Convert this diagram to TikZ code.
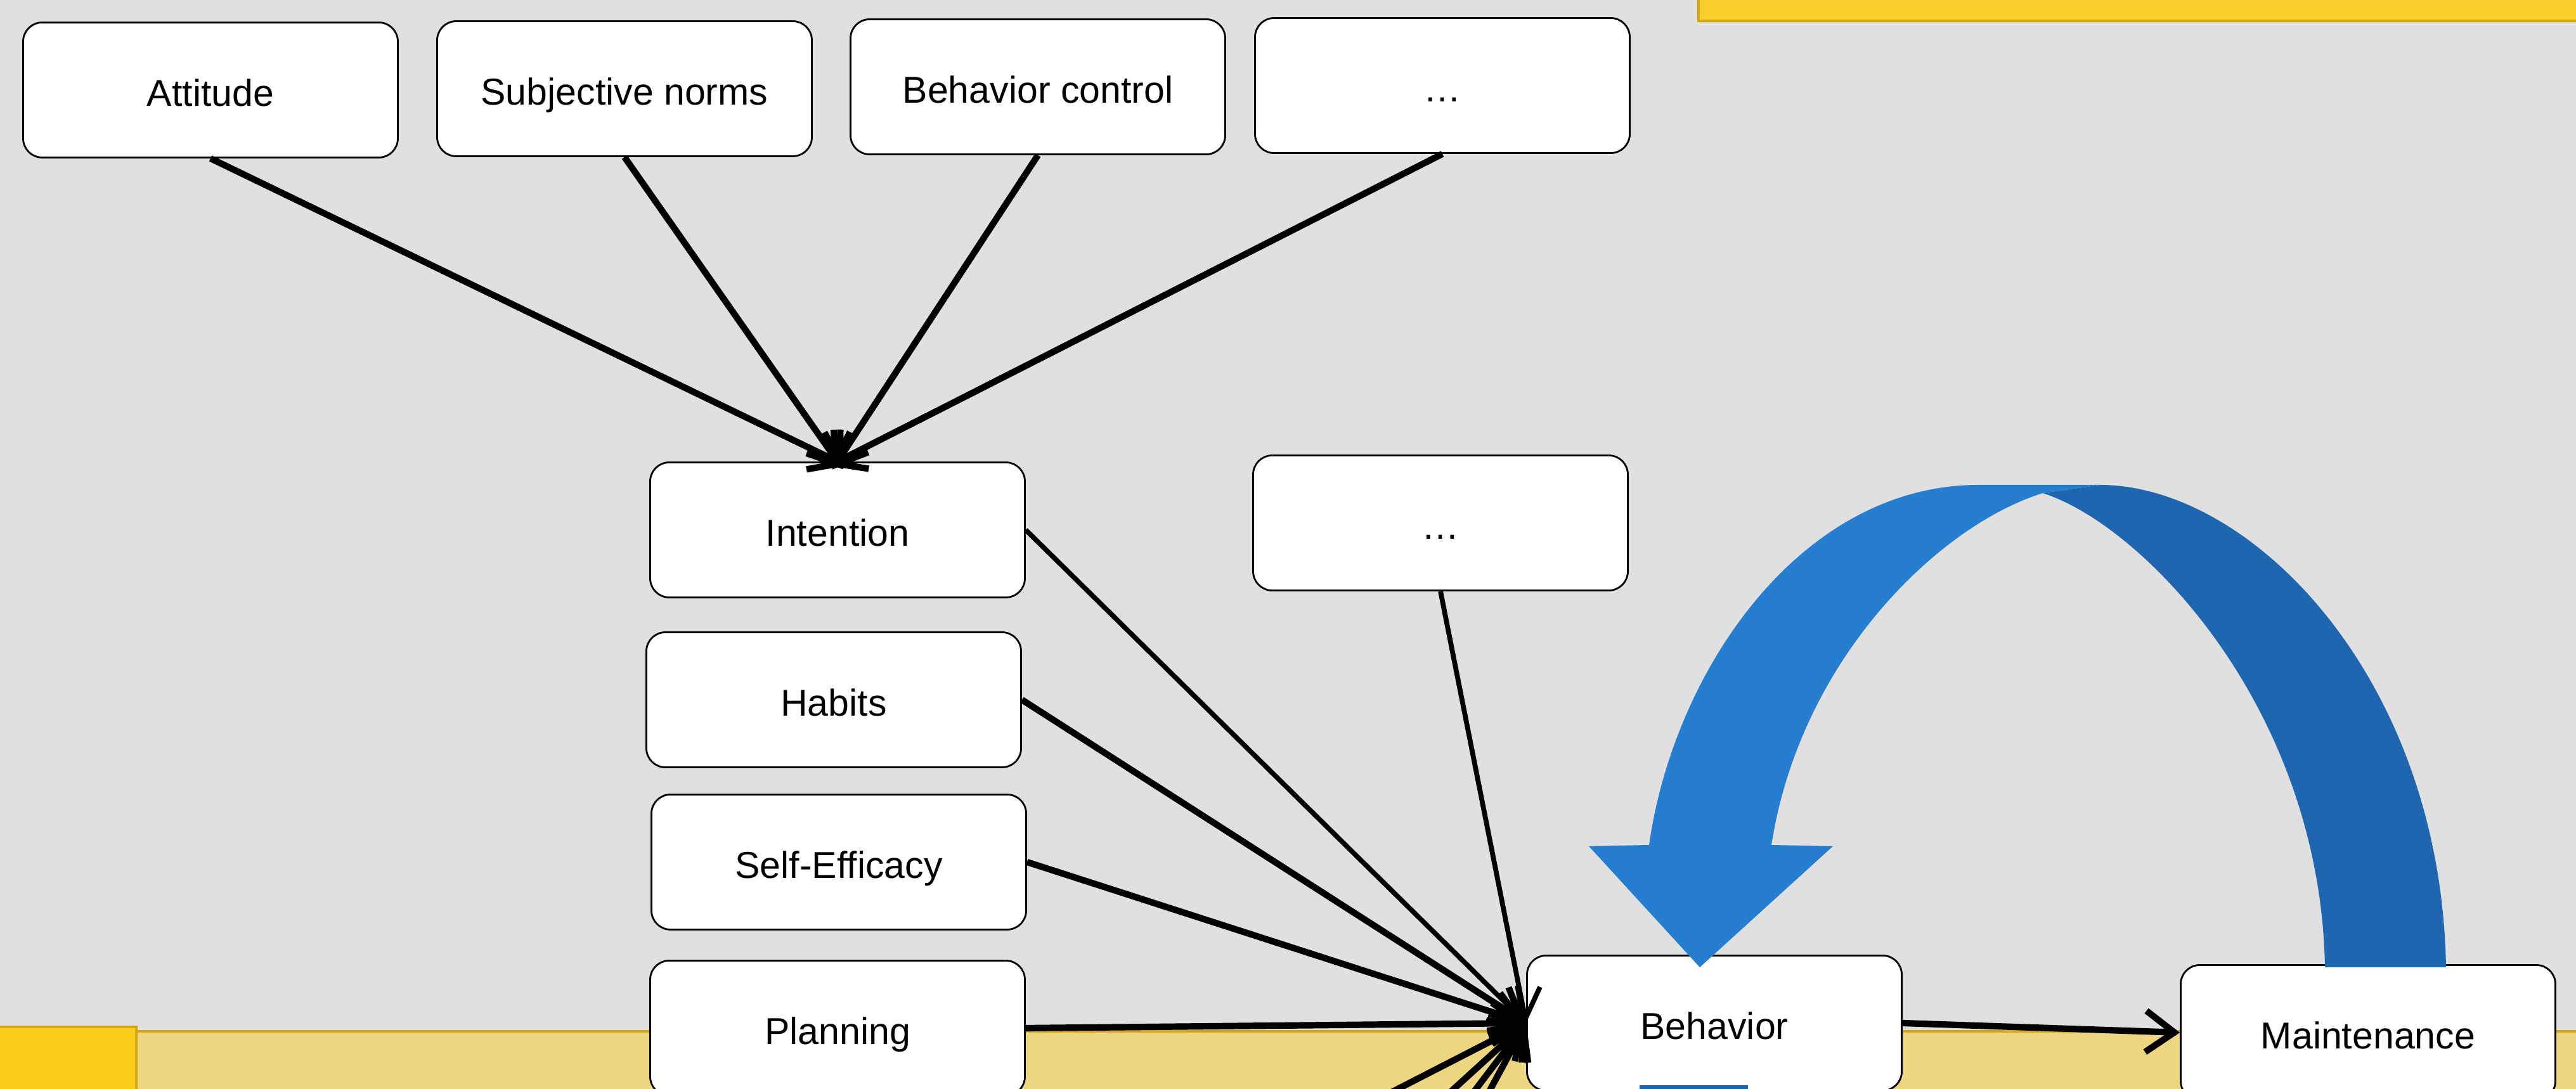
\documentclass[tikz,border=0pt]{standalone}
\usepackage{fontspec}
\setmainfont{Liberation Sans}
\usepackage{color}
\usepackage{tikz}
\usetikzlibrary{arrows.meta}

\definecolor{slidegray}{RGB}{224,224,224}
\definecolor{baryellow}{RGB}{248,207,44}
\definecolor{cornyellow}{RGB}{251,205,27}
\definecolor{bandyellow}{RGB}{238,214,128}
\definecolor{barline}{RGB}{212,166,18}
\definecolor{looplight}{RGB}{38,126,209}
\definecolor{loopdark}{RGB}{31,102,176}

\begin{document}
\begin{tikzpicture}
    \tikzset{vertex/.style = {shape=rectangle,rounded corners=3mm,draw,line width=0.8pt,fill=white,
        minimum width=5.91cm,minimum height=2.13cm,text height=16pt,text depth=1.2pt,
        font=\fontsize{16.8}{20}\selectfont}}
    \tikzset{edge/.style = {-{Straight Barb[length=4.5mm,width=6.5mm]},line width=2.9pt}}
    \useasboundingbox (0,0) rectangle (40.63,17.18);
    \clip (0,0) rectangle (40.63,17.18);
    % slide background
    \fill[slidegray] (0,0) rectangle (40.63,17.18);
    \filldraw[fill=baryellow,draw=barline,line width=1pt] (26.79,16.85) rectangle (41,18);
    \fill[bandyellow] (2.15,-1) rectangle (41,0.91);
    \draw[barline,line width=1pt] (2.15,0.91) -- (41,0.91);
    \filldraw[fill=cornyellow,draw=barline,line width=1pt] (-1,-1) rectangle (2.15,0.98);

    % vertices
    \node[vertex] (att) at (3.32,15.76) {Attitude};
    \node[vertex] (sn) at (9.85,15.78) {Subjective norms};
    \node[vertex] (bc) at (16.37,15.81) {Behavior control};
    \node[vertex] (d1) at (22.75,15.83) {…};
    \node[vertex] (int) at (13.21,8.82) {Intention};
    \node[vertex] (d2) at (22.72,8.93) {…};
    \node[vertex] (hab) at (13.15,6.14) {Habits};
    \node[vertex] (se) at (13.23,3.58) {Self-Efficacy};
    \node[vertex] (pl) at (13.21,0.96) {Planning};
    \node[vertex] (beh) at (27.04,1.04) {Behavior};
    \node[vertex] (mnt) at (37.35,0.89) {Maintenance};
    \coordinate (u1) at (20.10,-1);
    \coordinate (u2) at (21.83,-1);
    \coordinate (u3) at (22.52,-1);
    \coordinate (u4) at (22.97,-1);

    % edges
    \path[edge,shorten >=-0.15cm] (att.south) edge (int.north);
    \path[edge,shorten >=-0.15cm] (sn.south) edge (int.north);
    \path[edge,shorten >=-0.15cm] (bc.south) edge (int.north);
    \path[edge,shorten >=-0.15cm] (d1.south) edge (int.north);
    \path[edge,line width=2.2pt] (int.east) edge (beh.west);
    \path[edge,line width=2.2pt] (d2.south) edge (beh.west);
    \path[edge] (hab.east) edge (beh.west);
    \path[edge] (se.east) edge (beh.west);
    \path[edge] (pl.east) edge (beh.west);
    \path[edge] (u1) edge (beh.west);
    \path[edge] (u2) edge (beh.west);
    \path[edge] (u3) edge (beh.west);
    \path[edge] (u4) edge (beh.west);
    \path[edge] (beh.east) edge (mnt.west);

    % curved block arrow
    \fill[loopdark] (32.22,9.40) -- (33.12,9.53) .. controls (35.5,9.53) and (38.5,6.5) .. (38.58,1.92)
        -- (36.67,1.92) .. controls (36.6,6.0) and (33.8,8.9) .. (32.22,9.40) -- cycle;
    \fill[looplight] (26.01,3.85) .. controls (26.4,6.6) and (28.4,9.53) .. (31.21,9.53) -- (33.12,9.53)
        -- (32.22,9.40) .. controls (30.6,8.9) and (28.4,6.8) .. (27.94,3.85)
        -- (28.91,3.83) -- (26.81,1.92) -- (25.06,3.83) -- cycle;
    \fill[loopdark] (25.86,0) rectangle (27.57,0.06);
\end{tikzpicture}
\end{document}
